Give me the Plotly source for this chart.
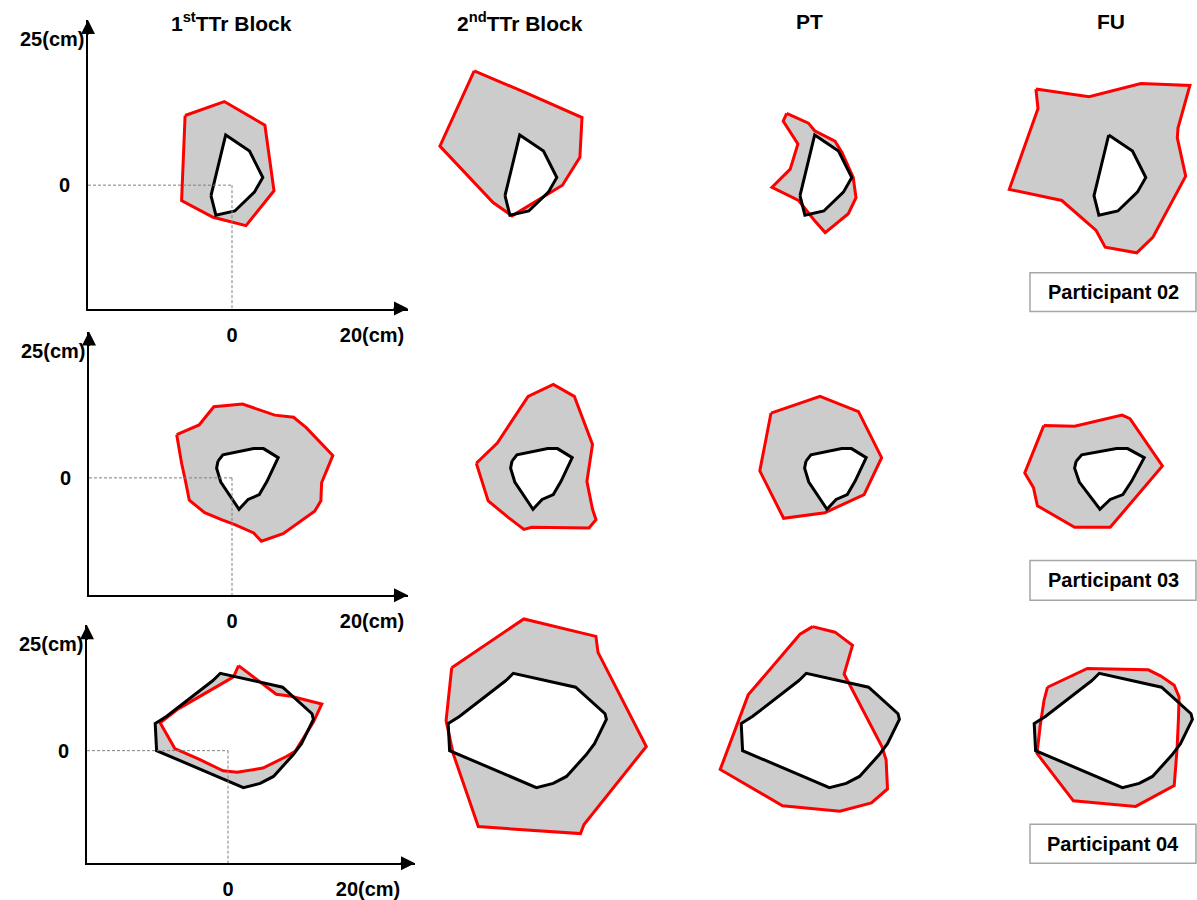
import plotly.graph_objects as go

FIG_W, FIG_H = 1197, 900

SESSIONS = ["1<sup>st</sup>TTr Block", "2<sup>nd</sup>TTr Block", "PT", "FU"]
PARTICIPANTS = ["Participant 02", "Participant 03", "Participant 04"]
X_TICKS = [0, 20]
X_TICK_TEXT = ["0", "20(cm)"]
Y_TICKS = [0]
Y_TICK_TEXT = ["0"]
Y_END_LABEL = "25(cm)"

# ---- Participant 02 (cm) ----
P02_TARGET_X = [-0.9, 2.5, 4.4, 3.2, 0.4, -2.3, -3.0]
P02_TARGET_Y = [7.2, 4.9, 1.1, -1.0, -3.7, -4.3, -1.5]
P02_TTR1_X = [-6.7, -1.1, 4.7, 6.0, 2.0, -2.7, -7.2]
P02_TTR1_Y = [10.0, 12.0, 8.6, -0.8, -5.8, -4.6, -2.2]
P02_TTR2_X = [-7.4, 0.1, 8.0, 7.7, 5.2, -2.0, -4.7, -12.3]
P02_TTR2_Y = [16.4, 13.2, 9.7, 4.0, 0.0, -4.4, -2.5, 5.6]
P02_PT_X = [-4.9, -1.8, -0.9, 2.0, 3.0, 4.6, 5.0, 3.9, 0.6, -0.9, -3.2, -7.0, -4.4, -3.3, -5.4]
P02_PT_Y = [10.3, 8.9, 7.8, 6.3, 4.7, 1.1, -1.8, -4.1, -6.8, -5.1, -2.2, -0.3, 2.3, 5.9, 9.2]
P02_FU_X = [-11.3, -11.0, -15.1, -7.6, -2.7, -1.4, 3.1, 5.4, 10.1, 8.9, 9.0, 10.7, 3.7, -3.7]
P02_FU_Y = [13.8, 11.0, -0.6, -2.2, -6.5, -8.9, -9.7, -7.5, 1.3, 6.8, 8.2, 14.3, 14.6, 12.7]

# ---- Participant 03 (cm) ----
P03_TARGET_X = [-1.3, 3.1, 4.5, 6.6, 5.0, 3.9, 2.3, 1.0, -1.6, -2.2, -2.0]
P03_TARGET_Y = [3.3, 4.2, 4.2, 2.9, -0.5, -2.4, -3.1, -4.5, -0.6, 1.4, 2.4]
P03_TTR1_X = [-7.9, -4.7, -2.6, 1.5, 6.1, 8.8, 10.6, 14.4, 12.8, 12.7, 11.8, 9.2, 7.3,
              4.2, 3.1, 0.4, -1.5, -3.9, -6.1, -6.7, -7.2]
P03_TTR1_Y = [6.2, 7.6, 10.2, 10.6, 9.0, 8.7, 7.2, 3.2, -0.7, -3.3, -4.8, -6.7, -8.0,
              -9.1, -7.9, -6.7, -6.0, -5.0, -3.2, -0.2, 2.1]
P03_TTR2_X = [-7.1, -4.1, 0.3, 3.9, 6.9, 9.5, 8.7, 9.5, 10.0, 9.0, 0.8, -0.3, -2.5, -5.4]
P03_TTR2_Y = [2.1, 5.0, 11.7, 13.4, 11.7, 4.8, -0.5, -4.5, -6.0, -7.2, -7.1, -7.4, -5.7, -3.3]
P03_PT_X = [-7.0, 0.0, 5.5, 8.8, 6.3, 0.7, -5.2, -8.6]
P03_PT_Y = [9.3, 11.7, 9.5, 2.9, -2.4, -5.0, -5.8, 1.0]
P03_FU_X = [-6.1, -2.2, 3.8, 4.8, 8.9, 2.3, -2.2, -6.9, -7.4, -8.5]
P03_FU_Y = [7.5, 7.4, 9.0, 8.5, 1.7, -7.1, -7.1, -4.0, -1.4, 0.7]

# ---- Participant 04 (cm) ----
P04_TARGET_X = [-1.1, 7.8, 12.0, 12.2, 10.5, 9.3, 6.5, 4.6, 2.2, -10.2, -10.4, -8.8, -2.1]
P04_TARGET_Y = [11.1, 9.1, 5.3, 4.5, 1.0, -0.6, -3.7, -4.7, -5.3, 0.0, 3.9, 4.9, 10.1]
P04_TTR1_X = [1.5, 6.9, 9.0, 13.4, 12.2, 9.6, 8.4, 5.0, 1.3, -0.7, -4.0, -7.6, -9.7, -7.1, 0.3, 0.8]
P04_TTR1_Y = [12.2, 8.1, 7.8, 6.7, 4.1, -0.1, -0.8, -2.5, -3.1, -2.9, -1.3, 0.3, 4.0, 6.0, 10.3, 10.6]
P04_TTR2_X = [-9.9, 0.4, 10.7, 11.0, 17.9, 9.0, 8.5, -6.1, -9.7, -10.7]
P04_TTR2_Y = [11.9, 18.9, 16.4, 14.1, 0.6, -10.6, -11.9, -10.9, -0.4, 4.3]
P04_PT_X = [-0.2, 3.0, 5.5, 4.3, 9.7, 10.3, 10.5, 8.2, 3.7, -4.5, -13.4, -9.4, -2.0]
P04_PT_Y = [17.8, 17.0, 15.1, 11.0, 0.6, -1.3, -5.5, -7.5, -8.7, -7.9, -2.7, 8.0, 16.7]
P04_FU_X = [-8.5, -2.8, 5.9, 7.7, 9.6, 10.3, 10.2, 10.0, 9.6, 4.1, -4.8, -10.0, -9.5, -9.0]
P04_FU_Y = [9.1, 11.8, 11.6, 10.7, 9.4, 7.7, 4.4, 0.1, -5.0, -8.0, -7.2, -0.4, 3.9, 7.2]

TARGETS = [
    (P02_TARGET_X, P02_TARGET_Y),
    (P03_TARGET_X, P03_TARGET_Y),
    (P04_TARGET_X, P04_TARGET_Y),
]
REACH = [
    [(P02_TTR1_X, P02_TTR1_Y), (P02_TTR2_X, P02_TTR2_Y), (P02_PT_X, P02_PT_Y), (P02_FU_X, P02_FU_Y)],
    [(P03_TTR1_X, P03_TTR1_Y), (P03_TTR2_X, P03_TTR2_Y), (P03_PT_X, P03_PT_Y), (P03_FU_X, P03_FU_Y)],
    [(P04_TTR1_X, P04_TTR1_Y), (P04_TTR2_X, P04_TTR2_Y), (P04_PT_X, P04_PT_Y), (P04_FU_X, P04_FU_Y)],
]

# ---- page geometry (pixels) ----
PX_PER_CM = 7.0
ORIGIN_Y = [186, 480, 754]
ORIGIN_X = [[232, 526, 821, 1115], [232, 526, 820, 1092], [228, 521, 814, 1107]]
X_STRETCH = [[1, 1, 1, 1], [1, 1, 1, 1.13], [1, 1, 1, 1]]
AXIS_BOX = [(88, 408, 20, 310), (89, 408, 333, 598), (87, 415, 628, 867)]  # left, right, top, bottom
TITLE_X = [231, 520, 809, 1111]
TITLE_Y = 22
LABEL_BOX_X = (1030, 1196)
LABEL_BOX_Y = [(274, 313), (563, 603), (828, 867)]

FONT = "Liberation Sans, Arial, sans-serif"
RED = "#ff0000"
GRAY = "#cccccc"


def closed(xs, ys):
    return list(xs) + [xs[0]], list(ys) + [ys[0]]


def signed_area(xs, ys):
    n = len(xs)
    return sum(xs[i] * ys[(i + 1) % n] - xs[(i + 1) % n] * ys[i] for i in range(n)) / 2.0


fig = go.Figure()
layout_axes = {}
shapes = []
annotations = []

n = 0
for r in range(3):
    tx, ty = TARGETS[r]
    for c in range(4):
        n += 1
        sfx = "" if n == 1 else str(n)
        ox, oy = ORIGIN_X[r][c], ORIGIN_Y[r]
        sx = PX_PER_CM * X_STRETCH[r][c]
        sy = PX_PER_CM
        if c == 0:
            left, right, top, bottom = AXIS_BOX[r]
        else:
            left = max(0, ox - 19 * sx)
            right = min(FIG_W, ox + 19 * sx)
            top = oy - 22 * sy
            bottom = oy + 16 * sy
        xr = [(left - ox) / sx, (right - ox) / sx]
        yr = [(oy - bottom) / sy, (oy - top) / sy]

        xa = dict(domain=[left / FIG_W, right / FIG_W], range=xr, anchor="y" + sfx,
                  showgrid=False, zeroline=False, fixedrange=True)
        ya = dict(domain=[1 - bottom / FIG_H, 1 - top / FIG_H], range=yr, anchor="x" + sfx,
                  showgrid=False, zeroline=False, fixedrange=True)
        if c == 0:
            tick_font = dict(family=FONT, size=20, color="black", weight="bold")
            xa.update(showline=True, linecolor="black", linewidth=2, ticks="",
                      tickvals=X_TICKS, ticktext=X_TICK_TEXT, tickfont=tick_font,
                      ticklabelstandoff=7)
            ya.update(showline=True, linecolor="black", linewidth=2, ticks="",
                      tickvals=Y_TICKS, ticktext=Y_TICK_TEXT, tickfont=tick_font,
                      ticklabelstandoff=12)
            # dashed guides from the origin to both axes
            guide = dict(type="line", xref="x" + sfx, yref="y" + sfx,
                         line=dict(color="#7f7f7f", width=1, dash="3px,2px"))
            shapes.append(dict(guide, x0=xr[0], y0=0, x1=0, y1=0))
            shapes.append(dict(guide, x0=0, y0=0, x1=0, y1=yr[0]))
            # arrow heads at the axis ends
            arrow = dict(text="", showarrow=True, arrowhead=2, arrowsize=1.4,
                         arrowwidth=2, arrowcolor="black",
                         xref="x" + sfx + " domain", yref="y" + sfx + " domain")
            annotations.append(dict(arrow, x=1, y=0, ax=-16, ay=0))
            annotations.append(dict(arrow, x=0, y=1, ax=0, ay=16))
            annotations.append(dict(text="<b>" + Y_END_LABEL + "</b>", showarrow=False,
                                    xref="x" + sfx + " domain", yref="y" + sfx + " domain",
                                    x=0, y=1, xanchor="right", yanchor="middle",
                                    xshift=-2, yshift=-19,
                                    font=dict(family=FONT, size=20, color="black")))
        else:
            xa.update(visible=False)
            ya.update(visible=False)
        layout_axes["xaxis" + sfx] = xa
        layout_axes["yaxis" + sfx] = ya

        rx, ry = REACH[r][c]
        bx, by = list(tx), list(ty)
        # opposite winding so the nonzero fill shades the non-overlapping area
        if (signed_area(rx, ry) > 0) == (signed_area(bx, by) > 0):
            bx, by = bx[::-1], by[::-1]
        rxc, ryc = closed(rx, ry)
        bxc, byc = closed(bx, by)
        fig.add_trace(go.Scatter(x=rxc + [None] + bxc, y=ryc + [None] + byc,
                                 xaxis="x" + sfx, yaxis="y" + sfx,
                                 mode="none", fill="toself", fillcolor=GRAY,
                                 hoverinfo="skip", showlegend=False))
        fig.add_trace(go.Scatter(x=rxc, y=ryc, xaxis="x" + sfx, yaxis="y" + sfx,
                                 mode="lines", line=dict(color=RED, width=3),
                                 hoverinfo="skip", showlegend=False))
        fig.add_trace(go.Scatter(x=bxc, y=byc, xaxis="x" + sfx, yaxis="y" + sfx,
                                 mode="lines", line=dict(color="black", width=3),
                                 hoverinfo="skip", showlegend=False))

# column titles
for c, title in enumerate(SESSIONS):
    annotations.append(dict(text="<b>" + title + "</b>", showarrow=False,
                            xref="paper", yref="paper",
                            x=TITLE_X[c] / FIG_W, y=1 - TITLE_Y / FIG_H,
                            xanchor="center", yanchor="middle",
                            font=dict(family=FONT, size=21, color="black")))

# participant labels
for r, name in enumerate(PARTICIPANTS):
    y0, y1 = LABEL_BOX_Y[r]
    x0, x1 = LABEL_BOX_X
    shapes.append(dict(type="rect", xref="paper", yref="paper",
                       x0=x0 / FIG_W, x1=x1 / FIG_W, y0=1 - y1 / FIG_H, y1=1 - y0 / FIG_H,
                       line=dict(color="#a6a6a6", width=1.5), fillcolor="white"))
    annotations.append(dict(text="<b>" + name + "</b>", showarrow=False,
                            xref="paper", yref="paper",
                            x=(x0 + x1) / 2 / FIG_W, y=1 - (y0 + y1) / 2 / FIG_H,
                            xanchor="center", yanchor="middle",
                            font=dict(family=FONT, size=20, color="black")))

fig.update_layout(
    width=FIG_W, height=FIG_H,
    margin=dict(l=0, r=0, t=0, b=0),
    paper_bgcolor="white", plot_bgcolor="rgba(0,0,0,0)",
    showlegend=False,
    shapes=shapes, annotations=annotations,
    **layout_axes,
)

fig.write_html("out.html")
